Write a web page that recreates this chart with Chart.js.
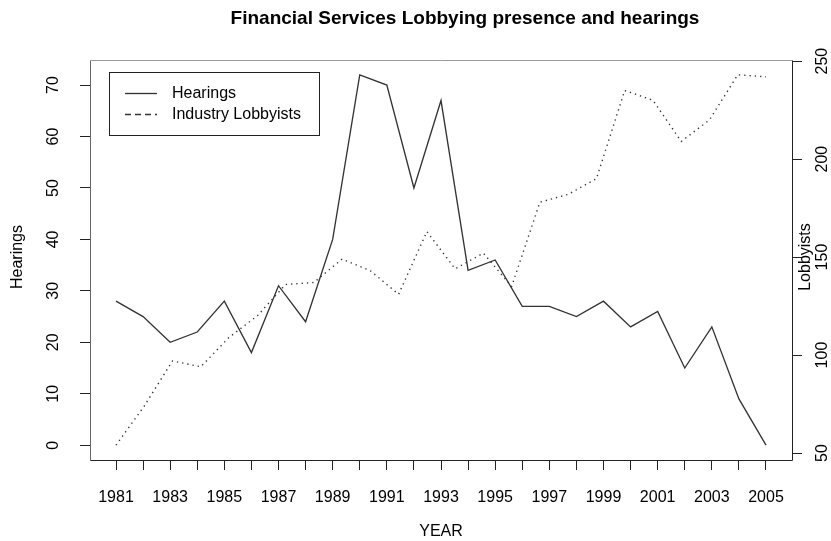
<!DOCTYPE html>
<html><head><meta charset="utf-8">
<script src="https://cdn.jsdelivr.net/npm/chart.js@4.4.0/dist/chart.umd.min.js"></script>
<style>html,body{margin:0;padding:0;background:#fff;overflow:hidden}#wrap{width:831px;height:541px;position:relative}</style>
</head><body><div id="wrap"><canvas id="c" width="831" height="541"></canvas></div>
<script>
const titleText = "Financial Services Lobbying presence and hearings";
const xTitle = "YEAR";
const yTitle = "Hearings";
const y2Title = "Lobbyists";
const legendLabels = ["Hearings", "Industry Lobbyists"];

const years = [1981,1982,1983,1984,1985,1986,1987,1988,1989,1990,1991,1992,1993,1994,1995,1996,1997,1998,1999,2000,2001,2002,2003,2004,2005];
const hearings = [28,25,20,22,28,18,31,24,40,72,70,50,67,34,36,27,27,25,28,23,26,15,23,9,0];
const lobbyIndex = [1,2,3,4,5,6,7,8,9,10,11,12,13,14,15,16,17,18,19,20,21,22,23,24];
const lobbyists = [54,74,97,94,109,120,136,137,149,143,131,163,144,152,135,178,182,190,235,230,209,220,243,242];

const yearTicks = years;
const yearLabels = [1981,1983,1985,1987,1989,1991,1993,1995,1997,1999,2001,2003,2005];
const hearingTicks = [0,10,20,30,40,50,60,70];
const lobbyTicks = [50,100,150,200,250];

function rRange(arr){const mn=Math.min(...arr), mx=Math.max(...arr), d=(mx-mn)*0.04; return {min:mn-d, max:mx+d};}
const xr = rRange(years), x2r = rRange(lobbyIndex), yr = rRange(hearings), y2r = rRange(lobbyists);

const FONT = "'Liberation Sans', Arial, sans-serif";
const INK = '#000';

const annot = {
  id: 'annot',
  afterDraw(chart) {
    const ctx = chart.ctx, a = chart.chartArea;
    ctx.save();
    ctx.lineWidth = 1;
    const L = Math.round(a.left)+0.5, R = Math.round(a.right)+0.5, T = Math.round(a.top)+0.5, B = Math.round(a.bottom)+0.5;
    ctx.strokeStyle = '#999'; ctx.beginPath(); ctx.moveTo(L,T); ctx.lineTo(R,T); ctx.stroke();
    ctx.strokeStyle = '#666'; ctx.beginPath(); ctx.moveTo(L,T); ctx.lineTo(L,B); ctx.stroke();
    ctx.strokeStyle = '#222'; ctx.beginPath(); ctx.moveTo(L,B); ctx.lineTo(R,B); ctx.lineTo(R,T); ctx.stroke();
    ctx.fillStyle = INK;
    ctx.font = '16px ' + FONT;
    ctx.textAlign = 'center'; ctx.textBaseline = 'middle';
    const sy = chart.scales.y, sy2 = chart.scales.y2;
    hearingTicks.forEach(v => {
      const py = sy.getPixelForValue(v);
      ctx.save(); ctx.translate(54, py); ctx.rotate(-Math.PI/2); ctx.fillText(String(v), 0, 0); ctx.restore();
    });
    lobbyTicks.forEach(v => {
      const py = sy2.getPixelForValue(v);
      ctx.save(); ctx.translate(823, py); ctx.rotate(-Math.PI/2); ctx.fillText(String(v), 0, 0); ctx.restore();
    });
    ctx.save(); ctx.translate(18, 257); ctx.rotate(-Math.PI/2); ctx.fillText(yTitle, 0, 0); ctx.restore();
    ctx.save(); ctx.translate(806, 257); ctx.rotate(-Math.PI/2); ctx.fillText(y2Title, 0, 0); ctx.restore();
    ctx.fillText(xTitle, (a.left+a.right)/2, 532);
    ctx.font = 'bold 19px ' + FONT;
    ctx.fillText(titleText, 465, 19);
    ctx.strokeStyle = '#222'; ctx.lineWidth = 1;
    ctx.strokeRect(109.5, 72.5, 210, 63);
    ctx.font = '16px ' + FONT; ctx.textAlign = 'left';
    ctx.fillText(legendLabels[0], 172, 94);
    ctx.fillText(legendLabels[1], 172, 115);
    ctx.strokeStyle = '#333'; ctx.lineWidth = 1.33;
    ctx.beginPath(); ctx.moveTo(125, 93.5); ctx.lineTo(157, 93.5); ctx.stroke();
    ctx.setLineDash([6,4]);
    ctx.beginPath(); ctx.moveTo(125, 114.5); ctx.lineTo(157, 114.5); ctx.stroke();
    ctx.restore();
  }
};

new Chart(document.getElementById('c'), {
  type: 'line',
  data: {
    datasets: [
      { label: legendLabels[0], data: years.map((x,i)=>({x, y:hearings[i]})), xAxisID:'x', yAxisID:'y',
        borderColor:'#333', borderWidth:1.33, pointRadius:0, tension:0, fill:false },
      { label: legendLabels[1], data: lobbyIndex.map((x,i)=>({x, y:lobbyists[i]})), xAxisID:'x2', yAxisID:'y2',
        borderColor:'#333', borderWidth:1.4, borderDash:[1.3,4], pointRadius:0, tension:0, fill:false }
    ]
  },
  options: {
    responsive:false, animation:false, devicePixelRatio:1,
    layout:{ padding:{ top:60, left:0, right:0, bottom:0 } },
    plugins:{ legend:{display:false}, title:{display:false}, tooltip:{enabled:false} },
    scales:{
      x:{ type:'linear', position:'bottom', min:xr.min, max:xr.max,
          afterBuildTicks: s => { s.ticks = yearTicks.map(v=>({value:v})); },
          ticks:{ autoSkip:false, maxRotation:0, minRotation:0, padding:18, color:INK,
                  font:{family:FONT, size:16},
                  callback: v => yearLabels.includes(v) ? String(v) : '' },
          grid:{ drawOnChartArea:false, drawTicks:true, tickLength:10, color:'#222', tickColor:'#222', tickWidth:1 },
          border:{ display:false },
          afterFit: s => { s.height = 81; } },
      x2:{ type:'linear', display:false, min:x2r.min, max:x2r.max },
      y:{ type:'linear', position:'left', min:yr.min, max:yr.max,
          afterBuildTicks: s => { s.ticks = hearingTicks.map(v=>({value:v})); },
          ticks:{ display:false },
          grid:{ drawOnChartArea:false, drawTicks:true, tickLength:10, color:'#222', tickColor:'#222' },
          border:{ display:false },
          afterFit: s => { s.width = 90; } },
      y2:{ type:'linear', position:'right', min:y2r.min, max:y2r.max,
          afterBuildTicks: s => { s.ticks = lobbyTicks.map(v=>({value:v})); },
          ticks:{ display:false },
          grid:{ drawOnChartArea:false, drawTicks:true, tickLength:10, color:'#222', tickColor:'#222' },
          border:{ display:false },
          afterFit: s => { s.width = 39; } }
    }
  },
  plugins:[annot]
});
</script></body></html>
